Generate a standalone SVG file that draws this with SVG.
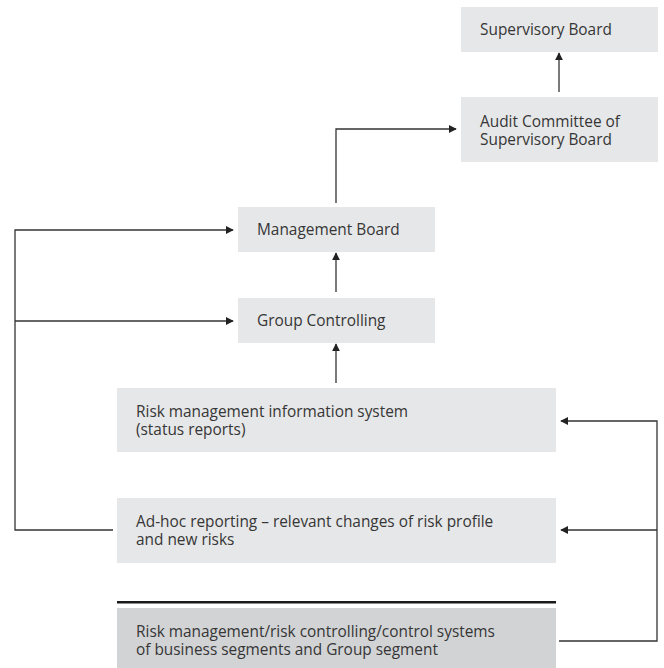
<svg xmlns="http://www.w3.org/2000/svg" width="664" height="668" viewBox="0 0 664 668">
<style>
.box{fill:#e6e7e8}
.box2{fill:#d2d3d5}
text{font-family:"Open Sans","Noto Sans","Liberation Sans",sans-serif;font-size:15.4px;fill:#363636}
.ln{fill:none;stroke:#333;stroke-width:1.3}
</style>
<defs>
<marker id="ah" viewBox="0 0 10 10" refX="9" refY="5" markerWidth="8" markerHeight="8" markerUnits="userSpaceOnUse" orient="auto">
<path d="M0,0 L10,5 L0,10 z" fill="#222"/>
</marker>
</defs>
<rect width="664" height="668" fill="#fff"/>
<g id="supervisory-board"><rect class="box" x="461" y="7" width="197" height="45"/><text x="480" y="35">Supervisory Board</text></g>
<g id="audit-committee"><rect class="box" x="461" y="97" width="197" height="65"/><text x="480" y="127">Audit Committee of<tspan x="480" dy="18">Supervisory Board</tspan></text></g>
<g id="management-board"><rect class="box" x="238" y="207" width="197" height="45"/><text x="257" y="235">Management Board</text></g>
<g id="group-controlling"><rect class="box" x="238" y="298" width="197" height="45"/><text x="257" y="326">Group Controlling</text></g>
<g id="risk-info-system"><rect class="box" x="117" y="388" width="439" height="64"/><text x="136" y="417">Risk management information system<tspan x="136" dy="18">(status reports)</tspan></text></g>
<g id="ad-hoc"><rect class="box" x="117" y="498" width="439" height="65"/><text x="136" y="527">Ad-hoc reporting – relevant changes of risk profile<tspan x="136" dy="18">and new risks</tspan></text></g>
<g id="risk-systems"><rect x="117" y="601" width="439" height="2.5" fill="#1a1a1a"/><rect class="box2" x="117" y="608" width="439" height="60"/><text x="136" y="637">Risk management/risk controlling/control systems<tspan x="136" dy="18">of business segments and Group segment</tspan></text></g>
<g id="connectors">
<path class="ln" d="M559 92 V53" marker-end="url(#ah)"/>
<path class="ln" d="M336 203 V129 H456" marker-end="url(#ah)"/>
<path class="ln" d="M336 292 V253" marker-end="url(#ah)"/>
<path class="ln" d="M336 383 V344" marker-end="url(#ah)"/>
<path class="ln" d="M113 530 H15 V230 H233" marker-end="url(#ah)"/>
<path class="ln" d="M15 321 H233" marker-end="url(#ah)"/>
<path class="ln" d="M559 641 H657 V421 H561" marker-end="url(#ah)"/>
<path class="ln" d="M657 530 H561" marker-end="url(#ah)"/>
</g>
</svg>
